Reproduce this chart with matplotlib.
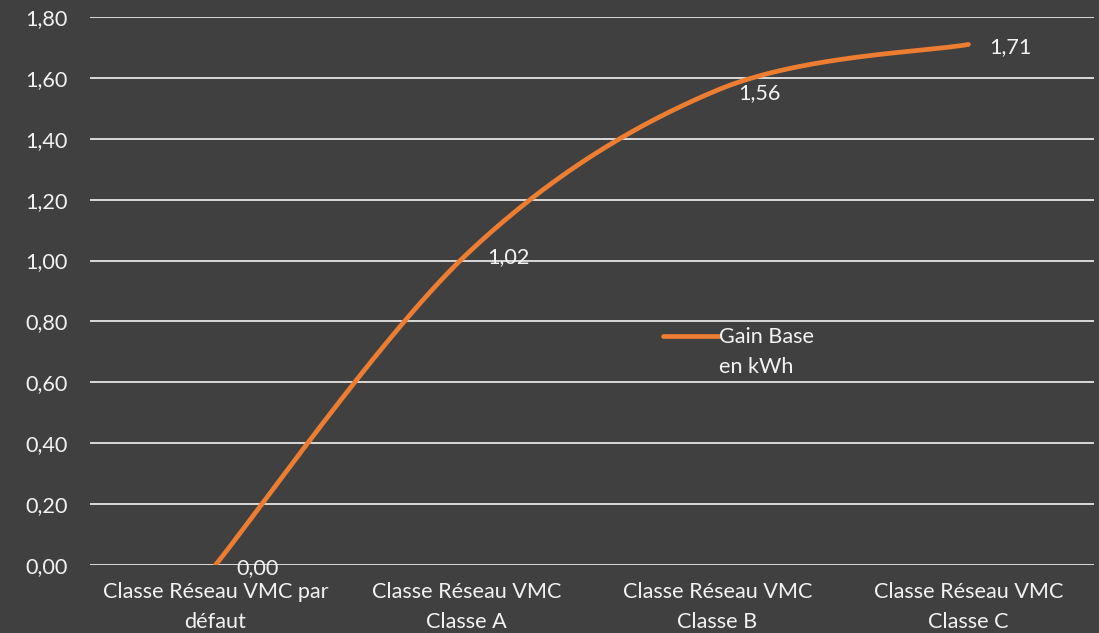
import numpy as np
import matplotlib
matplotlib.use('Agg')
import matplotlib.pyplot as plt

categories = ['Classe Réseau VMC par\ndéfaut', 'Classe Réseau VMC\nClasse A',
              'Classe Réseau VMC\nClasse B', 'Classe Réseau VMC\nClasse C']
gain = [0.00, 1.02, 1.56, 1.71]
y_ticks = [0.0, 0.2, 0.4, 0.6, 0.8, 1.0, 1.2, 1.4, 1.6, 1.8]
series_name = 'Gain Base\nen kWh'

bg = '#404040'
fg = '#f2f2f2'
orange = '#ED7D31'
fs = 15.6

plt.rcParams['font.family'] = ['Lato', 'DejaVu Sans']

fig = plt.figure(figsize=(10.99, 6.33), dpi=100, facecolor=bg)
ax = fig.add_axes([90 / 1099, 68 / 633, 1004 / 1099, 548 / 633])
ax.set_facecolor(bg)
ax.set_xlim(-0.5, len(categories) - 0.5)
ax.set_ylim(0, 1.8)

for s in ax.spines.values():
    s.set_visible(False)
ax.set_yticks(y_ticks)
ax.set_yticklabels([f'{v:.2f}'.replace('.', ',') for v in y_ticks])
ax.set_xticks(range(len(categories)))
ax.set_xticklabels(categories, linespacing=1.6)
ax.tick_params(axis='both', length=0, colors=fg, labelsize=fs)
ax.tick_params(axis='y', pad=16)
ax.tick_params(axis='x', pad=12.5)
ax.grid(axis='y', color='#d9d9d9', linewidth=1.4)
ax.set_axisbelow(True)

# smoothed line: cubic bezier segments (catmull-rom) computed in pixel space
x = np.arange(len(gain), dtype=float)
pts = ax.transData.transform(np.column_stack([x, gain]))
ext = np.vstack([pts[0], pts, pts[-1]])
t = np.linspace(0, 1, 60)[:, None]
curve = []
for i in range(len(pts) - 1):
    p0, p3 = ext[i + 1], ext[i + 2]
    p1 = p0 + (ext[i + 2] - ext[i]) / 6
    p2 = p3 - (ext[i + 3] - ext[i + 1]) / 6
    seg = ((1 - t) ** 3 * p0 + 3 * (1 - t) ** 2 * t * p1
           + 3 * (1 - t) * t ** 2 * p2 + t ** 3 * p3)
    curve.append(seg if i == 0 else seg[1:])
curve = ax.transData.inverted().transform(np.vstack(curve))
ax.plot(curve[:, 0], curve[:, 1], color=orange, linewidth=3.4,
        solid_capstyle='round', label=series_name)

for xi, v in zip(x, gain):
    ax.annotate(f'{v:.2f}'.replace('.', ','), (xi, v), xytext=(15, -2),
                textcoords='offset points', color=fg, fontsize=fs,
                ha='left', va='center')

leg = ax.legend(loc='upper left', bbox_to_anchor=(652 / 1099, 1 - 316 / 633),
                bbox_transform=fig.transFigure, frameon=False,
                handlelength=2.6, handletextpad=0.0, borderpad=0,
                fontsize=fs, labelcolor=fg)
for t_ in leg.get_texts():
    t_.set_linespacing(1.65)
# keep the legend stroke level with the first label line
for h in leg.legend_handles:
    h.set_ydata(np.asarray(h.get_ydata()) + 11.5)

fig.savefig('out.png', dpi=100, facecolor=bg)
